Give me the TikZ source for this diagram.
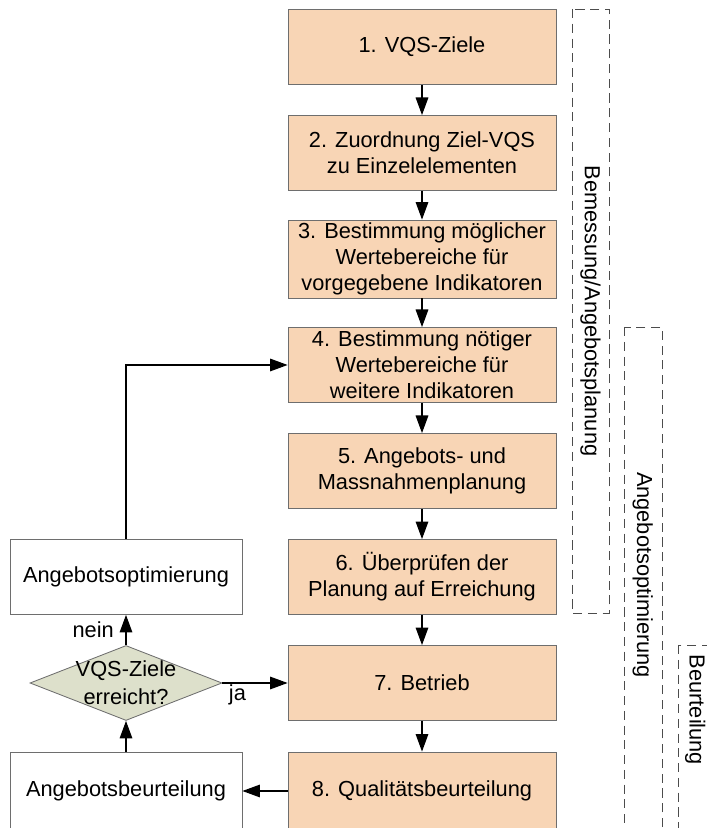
\documentclass[tikz,border=0pt]{standalone}
\usepackage{fontspec}
\setmainfont{Liberation Sans}
\usetikzlibrary{shapes.geometric,arrows.meta}

\definecolor{peach}{RGB}{248,213,181}
\definecolor{sage}{RGB}{221,224,203}
\definecolor{edgegray}{RGB}{110,110,110}

\begin{document}
\begin{tikzpicture}[
  font=\fontsize{15.5}{18.5}\selectfont,
  stage/.style={draw=edgegray, fill=peach, line width=0.6pt,
    minimum width=6.7cm, minimum height=1.875cm, align=center, inner sep=2pt},
  side/.style={draw=edgegray, fill=white, line width=0.6pt,
    minimum width=5.8cm, minimum height=1.875cm, align=center},
  check/.style={diamond, draw=edgegray, fill=sage, line width=0.6pt,
    minimum width=4.8cm, minimum height=1.875cm, inner sep=0pt},
  phase/.style={draw=black!70, dash pattern=on 6.5pt off 4pt, line width=0.6pt},
  flow/.style={-{Triangle[length=12.5pt,width=9pt]}, line width=0.8pt},
]
  \useasboundingbox (0,0) rectangle (17.675,20.7);

  % main sequence
  \node[stage] (s1) at (10.55, 19.525) {1. VQS-Ziele};
  \node[stage] (s2) at (10.55, 16.875) {2. Zuordnung Ziel-VQS\\zu Einzelelementen};
  \node[stage] (s3) at (10.55, 14.225) {3. Bestimmung möglicher\\Wertebereiche für\\vorgegebene Indikatoren};
  \node[stage] (s4) at (10.55, 11.575) {4. Bestimmung nötiger\\Wertebereiche für\\weitere Indikatoren};
  \node[stage] (s5) at (10.55, 8.925) {5. Angebots- und\\Massnahmenplanung};
  \node[stage] (s6) at (10.55, 6.275) {6. Überprüfen der\\Planung auf Erreichung};
  \node[stage] (s7) at (10.55, 3.625) {7. Betrieb};
  \node[stage, minimum height=1.95cm] (s8) at (10.55, 0.925) {8. Qualitätsbeurteilung};

  \draw[flow] (s1) -- (s2);
  \draw[flow] (s2) -- (s3);
  \draw[flow] (s3) -- (s4);
  \draw[flow] (s4) -- (s5);
  \draw[flow] (s5) -- (s6);
  \draw[flow] (s6) -- (s7);
  \draw[flow] (s7) -- (s8);

  % feedback loop
  \node[side] (opt) at (3.15, 6.275) {Angebotsoptimierung};
  \node[check] (q) at (3.15, 3.625) {};
  \node[align=center, font=\fontsize{15.5}{20}\selectfont] (qtext) at (q) {VQS-Ziele\\erreicht?};
  \node[side, minimum height=1.95cm] (beurt) at (3.15, 0.925) {Angebotsbeurteilung};

  \draw[flow] (s8) -- (beurt);
  \draw[flow] (beurt) -- (q);
  \draw[flow] (q) -- node[left=5pt] {nein} (opt);
  \draw[flow] (q.east) -- node[below, pos=0.23, inner sep=1pt] {ja} (s7);
  \draw[flow] (opt.north) |- (s4.west);

  % phases
  \draw[phase] (14.3, 20.475) rectangle (15.225, 5.375);
  \node[rotate=-90] (plan) at (14.76, 12.925) {Bemessung/Angebotsplanung};
  \draw[phase] (15.6, 12.525) rectangle (16.55, -1);
  \node[rotate=-90] (optim) at (16.07, 6.325) {Angebotsoptimierung};
  \draw[phase] (16.95, 4.575) rectangle (17.69, -1);
  \node[rotate=-90] (eval) at (17.38, 2.95) {Beurteilung};
\end{tikzpicture}
\end{document}
